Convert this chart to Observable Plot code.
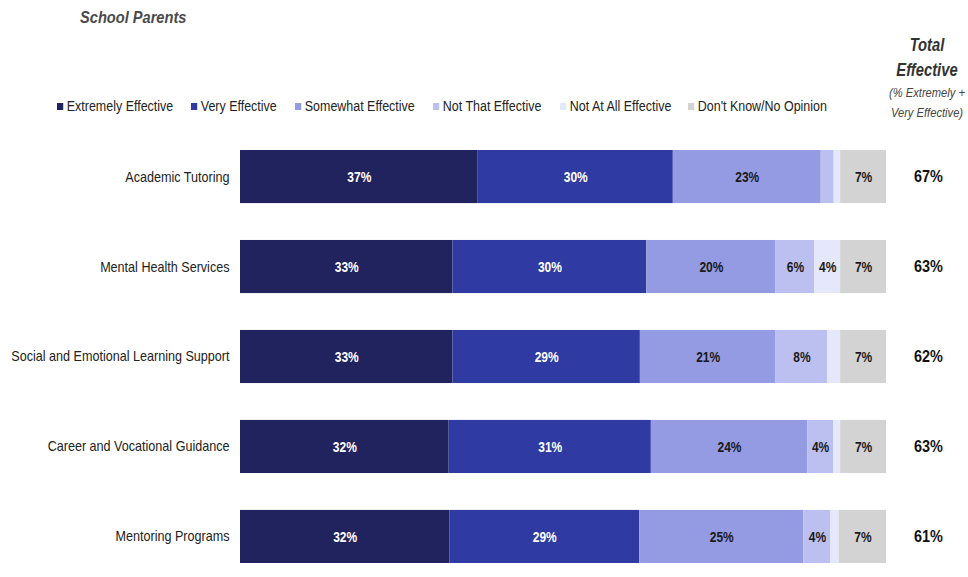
<!DOCTYPE html>
<html>
<head>
<meta charset="utf-8">
<script src="https://cdn.jsdelivr.net/npm/d3@7"></script>
<script src="https://cdn.jsdelivr.net/npm/@observablehq/plot@0.6"></script>
<style>
  html, body { margin: 0; padding: 0; background: #fff; }
  body { font-family: "Liberation Sans", Arial, sans-serif; }
  #wrap { position: relative; width: 968px; height: 577px; overflow: hidden; }
  #title { position: absolute; left: 80px; top: 8px; font-size: 17px; font-style: italic; font-weight: bold; color: #4a4a4a; transform: scaleX(0.86); transform-origin: left center; white-space: nowrap; }
  .leg { position: absolute; top: 97px; font-size: 14px; color: #222; white-space: nowrap; line-height: 18px; transform: scaleX(0.89); transform-origin: left center; }
  .leg span.sw { display: inline-block; width: 7px; height: 7px; margin-right: 4px; vertical-align: 1px; }
  #hdr { position: absolute; left: 878px; width: 98px; top: 33px; text-align: center; color: #333; font-style: italic; }
  #hdr .big { font-size: 18px; font-weight: bold; line-height: 25px; transform: scaleX(0.82); white-space: nowrap; }
  #hdr .small { font-size: 12px; line-height: 20px; color: #444; transform: scaleX(0.93); white-space: nowrap; }
  #chart { position: absolute; left: 0; top: 125px; }
</style>
</head>
<body>
<div id="wrap">
  <div id="title">School Parents</div>
  <div id="legend"></div>
  <div id="hdr">
    <div class="big">Total<br>Effective</div>
    <div class="small">(% Extremely +<br>Very Effective)</div>
  </div>
  <div id="chart"></div>
</div>
<script>
const categories = [
  "Academic Tutoring",
  "Mental Health Services",
  "Social and Emotional Learning Support",
  "Career and Vocational Guidance",
  "Mentoring Programs"
];
const responses = [
  "Extremely Effective",
  "Very Effective",
  "Somewhat Effective",
  "Not That Effective",
  "Not At All Effective",
  "Don't Know/No Opinion"
];
const colors = ["#21235f", "#2f3ba2", "#959be2", "#bcc0f1", "#e5e7fb", "#d3d3d3"];

const extremely = [36.8, 32.9, 32.9, 32.3, 32.4];
const very      = [30.2, 30.0, 29.0, 31.3, 29.4];
const somewhat  = [22.9, 20.0, 21.0, 24.2, 25.4];
const notThat   = [2.0, 6.0, 8.0, 4.0, 4.2];
const notAtAll  = [1.0, 4.0, 2.0, 1.1, 1.3];
const dontKnow  = [7.1, 7.1, 7.1, 7.1, 7.3];
const totals    = [67, 63, 62, 63, 61];

const series = [extremely, very, somewhat, notThat, notAtAll, dontKnow];
const darkSet = new Set(["Extremely Effective", "Very Effective"]);

const rows = categories.flatMap((c, i) =>
  responses.map((r, j) => ({cat: c, resp: r, value: series[j][i]}))
);
const totalRows = categories.map((c, i) => ({cat: c, total: totals[i]}));

// legend
const legX = [57, 191, 295, 433, 560, 688];
const legend = document.getElementById("legend");
responses.forEach((r, j) => {
  const d = document.createElement("div");
  d.className = "leg";
  d.style.left = legX[j] + "px";
  d.innerHTML = `<span class="sw" style="background:${colors[j]}"></span>${r}`;
  legend.appendChild(d);
});

const FONT = '"Liberation Sans", Arial, sans-serif';
const lab = d => d.value >= 3 ? Math.round(d.value) + "%" : "";

const chart = Plot.plot({
  width: 968,
  height: 447,
  marginLeft: 240,
  marginRight: 82,
  marginTop: 16,
  marginBottom: 0,
  style: {fontFamily: FONT, fontSize: "14px", color: "#222", background: "transparent"},
  x: {domain: [0, 100], axis: null},
  y: {domain: categories, paddingInner: 0.41, paddingOuter: 0.1, round: false, axis: null},
  color: {domain: responses, range: colors},
  marks: [
    Plot.barX(rows, Plot.stackX({x: "value", y: "cat", z: "resp", order: responses, fill: "resp"})),
    Plot.text(rows, Plot.stackX({
      x: "value", y: "cat", z: "resp", order: responses,
      text: d => darkSet.has(d.resp) ? lab(d) : "",
      fill: "white", fontWeight: "bold", fontSize: 15, ariaLabel: () => "seglabel"
    })),
    Plot.text(rows, Plot.stackX({
      x: "value", y: "cat", z: "resp", order: responses,
      text: d => darkSet.has(d.resp) ? "" : lab(d),
      fill: "#1a1a1a", fontWeight: "bold", fontSize: 15, ariaLabel: () => "seglabel"
    })),
    Plot.text(totalRows, {
      x: () => 100, y: "cat", text: d => d.total + "%",
      dx: 42, fill: "#111", fontWeight: "bold", fontSize: 16, ariaLabel: () => "totlabel"
    }),
    Plot.text(categories, {
      x: () => 0, y: d => d, text: d => d,
      dx: -11, textAnchor: "end", fill: "#222", fontSize: 14, ariaLabel: () => "catlabel"
    })
  ]
});

// horizontally condense text around each text's anchor x
function condense(sel, k) {
  chart.querySelectorAll(sel).forEach(el => {
    let x = parseFloat(el.getAttribute("x"));
    if (!isFinite(x)) x = 0;
    const t = el.getAttribute("transform") || "";
    el.setAttribute("transform", `${t} translate(${x},0) scale(${k},1) translate(${-x},0)`);
  });
}
condense('text[aria-label="seglabel"]', 0.8);
condense('text[aria-label="totlabel"]', 0.9);
condense('text[aria-label="catlabel"]', 0.9);

document.getElementById("chart").appendChild(chart);
</script>
</body>
</html>
